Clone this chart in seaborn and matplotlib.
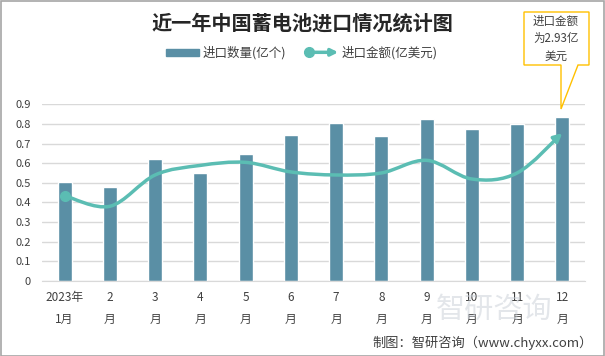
import numpy as np
import pandas as pd
import seaborn as sns
import matplotlib.pyplot as plt
from matplotlib.path import Path
from matplotlib.patches import FancyArrowPatch, Polygon, Rectangle, Patch
from matplotlib.lines import Line2D
from matplotlib.legend_handler import HandlerBase

# data
months = ['2023年\n1月', '2\n月', '3\n月', '4\n月', '5\n月', '6\n月',
          '7\n月', '8\n月', '9\n月', '10\n月', '11\n月', '12\n月']
qty = [0.505, 0.48, 0.622, 0.55, 0.648, 0.745, 0.805, 0.74, 0.825, 0.775, 0.80, 0.835]   # 亿个
amount = [1.69, 1.48, 2.10, 2.29, 2.35, 2.16, 2.10, 2.14, 2.39, 2.02, 2.14, 2.93]   # 亿美元

bar_col = '#5A8FA5'
line_col = '#5BBDB3'
txt_col = '#404040'

sns.set_style('white')
plt.rcParams['font.family'] = ['Noto Sans CJK SC', 'DejaVu Sans']

W, H = 605, 356
fig = plt.figure(figsize=(W / 100, H / 100), dpi=100)
ax = fig.add_axes([42 / W, 1 - 281 / H, 543 / W, (281 - 104.3) / H])

df = pd.DataFrame({'month': months, 'qty': qty})
sns.barplot(data=df, x='month', y='qty', color=bar_col, saturation=1,
            width=0.31, ax=ax)
ax.set_xlim(-0.5, 11.5)
ax.set_ylim(0, 0.9)
ax.set_yticks(np.arange(0, 0.91, 0.1))
ax.set_yticklabels(['0'] + ['%.1f' % v for v in np.arange(0.1, 0.91, 0.1)])
ax.set_xlabel('')
ax.set_ylabel('')
ax.grid(axis='y', color='#D9D9D9', lw=1)
ax.set_axisbelow(True)
for s in ['top', 'right', 'left']:
    ax.spines[s].set_visible(False)
ax.spines['bottom'].set_color('#D9D9D9')
ax.tick_params(axis='both', length=0, labelsize=8, colors=txt_col)
ax.tick_params(axis='y', pad=8)
ax.tick_params(axis='x', pad=7)
for lab in ax.get_xticklabels():
    lab.set_linespacing(1.9)
    lab.set_fontsize(8.5)

# hidden secondary axis for the amount line
ax2 = ax.twinx()
ax2.set_ylim(0, 3.5)
ax2.axis('off')

# smooth curve (Catmull-Rom -> Bezier control points)
xs = np.arange(len(amount), dtype=float)
ys = np.array(amount)
verts = [(xs[0], ys[0])]
codes = [Path.MOVETO]
n = len(xs)
for i in range(n - 1):
    p0 = np.array([xs[max(i - 1, 0)], ys[max(i - 1, 0)]])
    p1 = np.array([xs[i], ys[i]])
    p2 = np.array([xs[i + 1], ys[i + 1]])
    p3 = np.array([xs[min(i + 2, n - 1)], ys[min(i + 2, n - 1)]])
    c1 = p1 + (p2 - p0) / 6
    c2 = p2 - (p3 - p1) / 6
    verts += [tuple(c1), tuple(c2), tuple(p2)]
    codes += [Path.CURVE4] * 3
curve = FancyArrowPatch(path=Path(verts, codes), arrowstyle='-|>', mutation_scale=12,
                        color=line_col, lw=2.5, transform=ax2.transData,
                        shrinkA=0, shrinkB=0, zorder=5)
ax2.add_patch(curve)
ax2.plot(xs[0], ys[0], 'o', color=line_col, ms=7, zorder=6)


# legend with custom line handle (dot + arrow)
class ArrowHandler(HandlerBase):
    def create_artists(self, legend, orig, xd, yd, w, h, fs, trans):
        y = h / 2 - yd
        a = FancyArrowPatch((-xd, y), (-xd + w, y), arrowstyle='-|>', mutation_scale=10,
                            color=line_col, lw=2.5, transform=trans, shrinkA=0, shrinkB=0)
        d = Line2D([-xd + 2], [y], marker='o', ms=7, color=line_col, transform=trans)
        return [a, d]


h_bar = Patch(color=bar_col)
h_line = Line2D([], [], color=line_col)
fig.legend([h_bar, h_line], ['进口数量(亿个)', '进口金额(亿美元)'],
           handler_map={h_line: ArrowHandler()}, loc='center',
           bbox_to_anchor=(302 / W, 1 - 53 / H), ncol=2, frameon=False,
           fontsize=9, handlelength=2.6, handleheight=0.55, columnspacing=1.6,
           handletextpad=0.3, labelcolor=txt_col)

fig.text(302 / W, 1 - 23 / H, '近一年中国蓄电池进口情况统计图', ha='center', va='center',
         fontsize=14.5, fontweight='bold', color='#262626')

# callout
pts = [(524, 12), (589, 12), (589, 65), (578, 65), (561, 109), (561, 65), (524, 65)]
fig.patches.append(Polygon([(x / W, 1 - y / H) for x, y in pts], closed=True,
                           transform=fig.transFigure, facecolor='white',
                           edgecolor='#FFC000', lw=1, zorder=10))
fig.text(556 / W, 1 - 38.5 / H, '进口金额\n为2.93亿\n美元', ha='center', va='center',
         fontsize=8.3, color=txt_col, linespacing=1.45, zorder=11)

# watermark and source
fig.text(436 / W, 1 - 310 / H, '智研咨询', fontsize=21, color='#C8CED6', alpha=0.5,
         ha='left', va='center', zorder=0)
fig.text(593 / W, 1 - 343 / H, '制图：智研咨询（www.chyxx.com）', ha='right', va='center',
         fontsize=9.5, color=txt_col)

fig.patches.append(Rectangle((0.5 / W, 0.5 / H), 1 - 1.5 / W, 1 - 1.5 / H, fill=False,
                             edgecolor='#A6A6A6', lw=1.2, transform=fig.transFigure))

fig.savefig('out.png', dpi=100)
